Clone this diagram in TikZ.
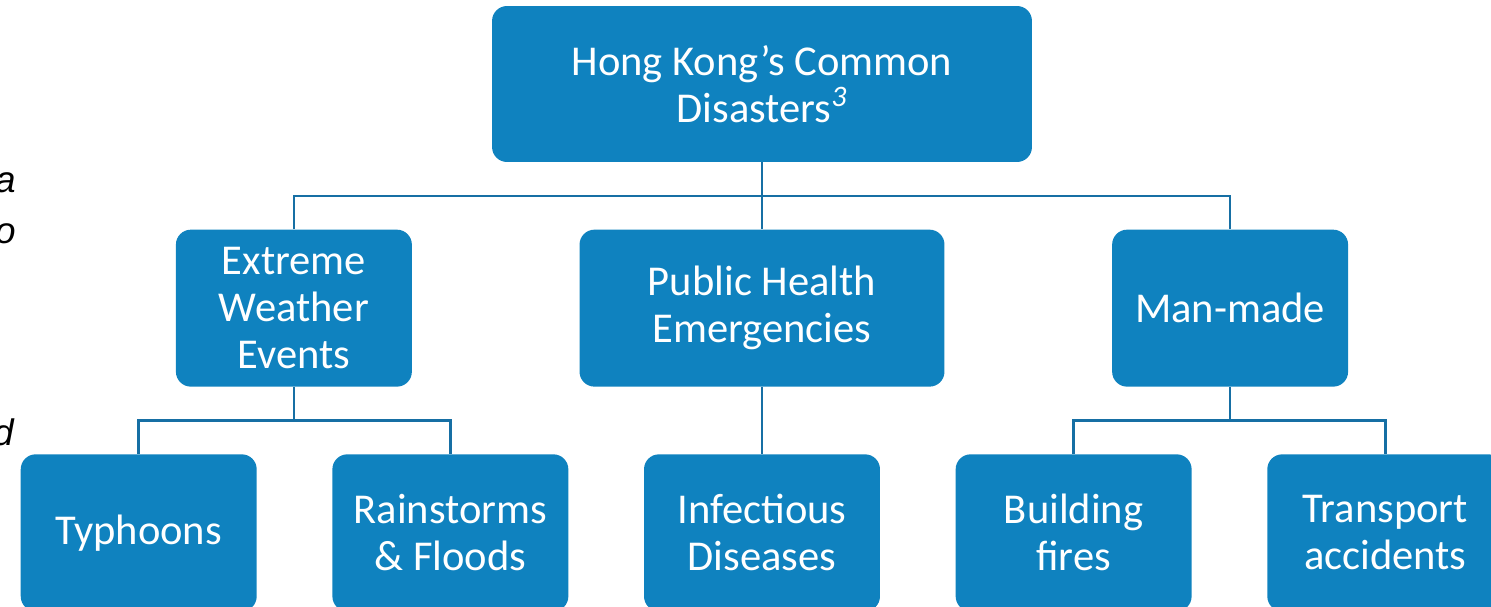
\documentclass[tikz,border=0pt]{standalone}
\usepackage{fontspec}
\setmainfont{Carlito}
\newfontfamily\fragfont{Liberation Sans}
\usetikzlibrary{positioning,calc}

\definecolor{hkblue}{HTML}{0F82BF}
\definecolor{hkline}{HTML}{166FA4}

\begin{document}
\begin{tikzpicture}[
  x=0.02cm, y=-0.02cm,
  node distance=1.34cm and 3.34cm,
  rootbox/.style={rectangle, fill=hkblue, text=white, minimum height=3.12cm, minimum width=10.8cm, font=\fontsize{24.2}{26.7}\selectfont, rounded corners=8.5pt, align=center, inner sep=0pt},
  catbox/.style={rectangle, fill=hkblue, text=white, minimum height=3.14cm, minimum width=4.72cm, font=\fontsize{24.2}{26.7}\selectfont, rounded corners=8.5pt, align=center, inner sep=0pt},
  leafbox/.style={catbox},
  fragment/.style={font=\fragfont\itshape\fontsize{21}{25}\selectfont, inner sep=0pt},
  link/.style={draw=hkline, line width=1.4pt}
]
\useasboundingbox (0,0) rectangle (1491,607);
\clip (0,0) rectangle (1491,607);

% Cut-off words at the left edge
\node[fragment, anchor=base east] (fraga) at (16,193) {a};
\node[fragment, anchor=base east] (frago) at (16,244) {o};
\node[fragment, anchor=base east] (fragd) at (14,446) {d};

% Root
\node[rootbox] (disasters) at (762,84) {Hong Kong’s Common\\Disasters\textsuperscript{\itshape 3}};

% Categories
\node[catbox, minimum width=7.3cm, below=of disasters] (health) {Public Health\\Emergencies};
\node[catbox, left=of health] (weather) {Extreme\\Weather\\Events};
\node[catbox, right=of health] (manmade) {Man-made};

% Leaves
\node[leafbox, below=of health] (infectious) {Infectious\\Diseases};
\node[leafbox, left=1.5cm of infectious] (rainstorms) {Rainstorms\\\& Floods};
\node[leafbox, left=1.5cm of rainstorms] (typhoons) {Typhoons};
\node[leafbox, right=1.5cm of infectious] (fires) {Building\\fires};
\node[leafbox, right=1.5cm of fires] (transport) {Transport\\accidents};

% Root to categories
\coordinate (rootjoin) at ($(disasters.south)!0.5!(health.north)$);
\draw[link] (disasters.south) -- (health.north);
\draw[link] (weather.north) |- (rootjoin) -| (manmade.north);

% Categories to leaves
\coordinate (weatherjoin) at ($(weather.south)!0.5!(weather.south |- typhoons.north)$);
\draw[link] (weather.south) -- (weatherjoin);
\draw[link] (typhoons.north) |- (weatherjoin) -| (rainstorms.north);

\draw[link] (health.south) -- (infectious.north);

\coordinate (manjoin) at ($(manmade.south)!0.5!(manmade.south |- fires.north)$);
\draw[link] (manmade.south) -- (manjoin);
\draw[link] (fires.north) |- (manjoin) -| (transport.north);

\end{tikzpicture}
\end{document}
